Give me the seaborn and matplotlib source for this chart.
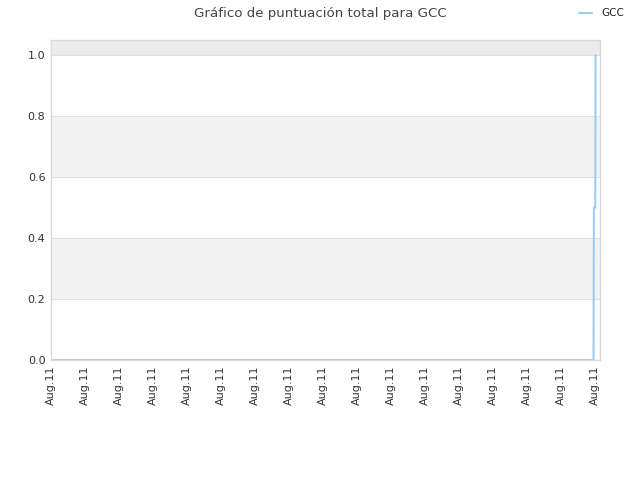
import pandas as pd
import matplotlib
matplotlib.use('Agg')
import matplotlib.pyplot as plt
import seaborn as sns

# Data (x in tick-spacing units, all on Aug 11)
time_pos = [0.06, 15.96, 15.97, 16.01, 16.02]
scores = [0.0, 0.0, 0.5, 0.5, 1.0]
tick_pos = list(range(17))
tick_labels = ['Aug.11'] * 17
series_name = 'GCC'

df = pd.DataFrame({'t': time_pos, 'score': scores, 'serie': series_name})

sns.set_style('white')
plt.rcParams['font.family'] = ['DejaVu Sans']

fig = plt.figure(figsize=(6.4, 4.8), dpi=100)
ax = fig.add_axes([51 / 640, 1 - 360 / 480, 549 / 640, 320 / 480])

# alternating background bands
for lo, hi, col in [(0.2, 0.4, '#f2f2f2'), (0.6, 0.8, '#f2f2f2'), (1.0, 1.05, '#ececec')]:
    ax.axhspan(lo, hi, color=col, zorder=0, lw=0)
for yv in [0.2, 0.4, 0.6, 0.8, 1.0]:
    ax.axhline(yv, color='#e0e0e0', lw=0.8, zorder=0.5)

sns.lineplot(data=df, x='t', y='score', hue='serie', palette=['#9cc9f2'],
             linewidth=1.4, ax=ax, sort=False, estimator=None)

ax.set_xlim(0, 16.15)
ax.set_ylim(0, 1.05)
ax.set_yticks([0.0, 0.2, 0.4, 0.6, 0.8, 1.0])
ax.set_yticklabels(['0.0', '0.2', '0.4', '0.6', '0.8', '1.0'])
ax.set_xticks(tick_pos)
ax.set_xticklabels(tick_labels, rotation=90)
ax.tick_params(axis='both', labelsize=8, colors='#333333', length=0, pad=4)
ax.set_xlabel('')
ax.set_ylabel('')
for s in ax.spines.values():
    s.set_color('#d9d9d9')
    s.set_linewidth(1)

fig.suptitle('Gráfico de puntuación total para GCC', x=0.5, y=0.985,
             fontsize=9.6, color='#444444')

leg = ax.legend(loc='center', bbox_to_anchor=(0.94, 0.972), bbox_transform=fig.transFigure,
                frameon=False, fontsize=7.5, handlelength=1.2, handletextpad=0.9)
for t in leg.get_texts():
    t.set_color('#222222')

fig.savefig('out.png', dpi=100)
